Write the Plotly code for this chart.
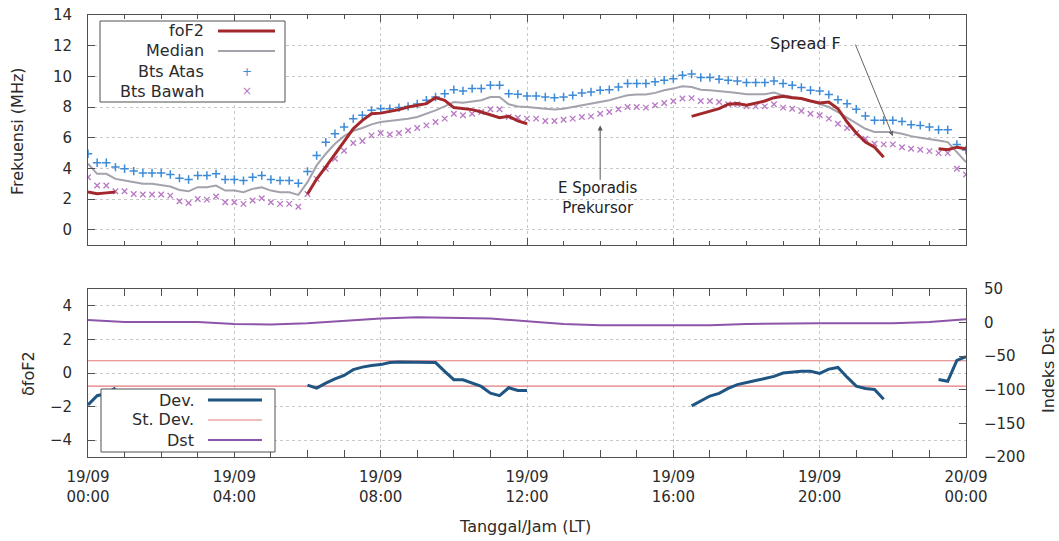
import plotly.graph_objects as go

# ---------------- data ----------------
time_h = [i / 4 for i in range(97)]          # 15-minute steps, 19/09 00:00 .. 20/09 00:00
dst_time_h = list(range(25))                 # hourly Dst

fof2 = [
    2.45, 2.35, 2.40, 2.45, None, None, None, None,
    None, None, None, None, None, None, None, None,
    None, None, None, None, None, None, None, None,
    2.33, 3.30, 4.10, 4.90, 5.71, 6.58, 7.13, 7.56,
    7.60, 7.72, 7.83, 8.00, 8.11, 8.22, 8.61, 8.44,
    7.96, 7.89, 7.83, 7.67, 7.46, 7.30, 7.39, 7.09,
    6.91, None, None, None, None, None, None, None,
    None, None, None, None, None, None, None, None,
    None, None, 7.39, 7.56, 7.74, 7.89, 8.18, 8.22,
    8.11, 8.26, 8.39, 8.61, 8.70, 8.61, 8.55, 8.39,
    8.26, 8.33, 7.89, 7.02, 6.30, 5.71, 5.38, 4.73,
    None, None, None, None, None, 5.28, 5.21, 5.38,
    5.28,
]

median = [
    4.30, 3.64, 3.64, 3.31, 3.20, 3.10, 2.99, 2.99,
    2.92, 2.81, 2.59, 2.50, 2.77, 2.77, 2.88, 2.55,
    2.55, 2.44, 2.66, 2.77, 2.55, 2.44, 2.44, 2.27,
    3.10, 4.19, 4.95, 5.60, 6.10, 6.45, 6.63, 6.87,
    7.02, 7.09, 7.13, 7.24, 7.35, 7.56, 7.78, 8.04,
    8.33, 8.28, 8.37, 8.44, 8.65, 8.65, 8.18, 8.04,
    8.00, 7.96, 7.89, 7.83, 7.89, 8.00, 8.11, 8.22,
    8.33, 8.44, 8.61, 8.76, 8.81, 8.81, 8.92, 9.09,
    9.20, 9.35, 9.30, 9.13, 9.09, 9.05, 8.98, 8.92,
    8.83, 8.83, 8.83, 8.94, 8.76, 8.65, 8.55, 8.39,
    8.22, 8.00, 7.67, 7.30, 6.91, 6.58, 6.37, 6.37,
    6.37, 6.26, 6.10, 6.00, 5.93, 5.82, 5.71, 5.06,
    4.40,
]

bts_atas = [
    4.95, 4.36, 4.36, 4.08, 3.97, 3.82, 3.70, 3.70,
    3.70, 3.60, 3.36, 3.27, 3.53, 3.53, 3.64, 3.27,
    3.27, 3.20, 3.42, 3.53, 3.27, 3.20, 3.20, 3.03,
    3.80, 4.84, 5.70, 6.26, 6.70, 7.24, 7.46, 7.78,
    7.89, 7.89, 7.96, 8.04, 8.20, 8.44, 8.65, 8.87,
    9.13, 9.05, 9.20, 9.20, 9.42, 9.42, 8.87, 8.83,
    8.72, 8.72, 8.65, 8.61, 8.65, 8.76, 8.92, 8.98,
    9.09, 9.13, 9.30, 9.53, 9.53, 9.53, 9.64, 9.75,
    9.85, 10.07, 10.15, 9.92, 9.92, 9.81, 9.75, 9.70,
    9.59, 9.59, 9.59, 9.70, 9.53, 9.42, 9.27, 9.09,
    9.05, 8.81, 8.48, 8.22, 7.85, 7.41, 7.13, 7.13,
    7.13, 7.06, 6.85, 6.80, 6.69, 6.52, 6.52, 5.56,
    5.20,
]

bts_bawah = [
    3.42, 2.88, 2.88, 2.50, 2.50, 2.33, 2.29, 2.29,
    2.29, 2.22, 1.85, 1.74, 2.00, 1.96, 2.16, 1.79,
    1.79, 1.68, 1.90, 2.05, 1.79, 1.68, 1.68, 1.50,
    2.33, 3.31, 3.97, 4.62, 5.15, 5.65, 5.78, 6.15,
    6.30, 6.21, 6.30, 6.47, 6.63, 6.80, 7.02, 7.24,
    7.56, 7.46, 7.56, 7.67, 7.85, 7.85, 7.35, 7.30,
    7.24, 7.24, 7.09, 7.09, 7.17, 7.24, 7.35, 7.39,
    7.56, 7.67, 7.85, 8.00, 8.00, 7.96, 8.11, 8.26,
    8.37, 8.55, 8.58, 8.39, 8.39, 8.33, 8.18, 8.18,
    8.04, 8.04, 8.04, 8.18, 7.96, 7.89, 7.74, 7.56,
    7.46, 7.24, 6.91, 6.63, 6.30, 5.93, 5.60, 5.56,
    5.56, 5.38, 5.28, 5.21, 5.12, 4.99, 4.99, 3.97,
    3.60,
]

dev = [
    -1.90, -1.35, -1.22, -0.90, None, None, None, None,
    None, None, None, None, None, None, None, None,
    None, None, None, None, None, None, None, None,
    -0.72, -0.90, -0.60, -0.35, -0.15, 0.20, 0.35, 0.45,
    0.50, 0.62, 0.65, 0.65, 0.62, 0.65, 0.62, 0.10,
    -0.40, -0.40, -0.60, -0.80, -1.20, -1.35, -0.88, -1.04,
    -1.04, None, None, None, None, None, None, None,
    None, None, None, None, None, None, None, None,
    None, None, -1.96, -1.67, -1.37, -1.21, -0.92, -0.69,
    -0.59, -0.45, -0.33, -0.20, 0.00, 0.05, 0.10, 0.10,
    -0.02, 0.23, 0.33, -0.25, -0.78, -0.92, -0.98, -1.56,
    None, None, None, None, None, -0.39, -0.49, 0.75,
    0.98,
]

st_dev_upper = 0.73
st_dev_lower = -0.78

dst = [4, 1, 1, 1, -2, -3, -1, 3, 6, 8, 7, 6, 2,
       -2, -4, -4, -3, -4, -2, -1, -1, -1, -1, 1, 5]

x_tickvals = [0, 4, 8, 12, 16, 20, 24]
x_ticktext = ["19/09<br>00:00", "19/09<br>04:00", "19/09<br>08:00", "19/09<br>12:00",
              "19/09<br>16:00", "19/09<br>20:00", "20/09<br>00:00"]

# ---------------- styles ----------------
W, H = 1059, 541
FONT = "DejaVu Sans"
TXT = "#2b2b2b"
FRAME = "#505050"
GRID = "#c8c8c8"
C_FOF2 = "#a3282c"
C_MED = "#a4a2ac"
C_ATAS = "#3d8ad6"
C_BAWAH = "#b877c4"
C_DEV = "#1f5583"
C_STD = "#e27a7a"
C_DST = "#8c55aa"
TICK_SIZE = 15
LABEL_SIZE = 16


def px(x):
    return x / W


def py(y):
    return 1 - y / H


fig = go.Figure()

# top panel
fig.add_trace(go.Scatter(x=time_h, y=median, mode="lines", line=dict(color=C_MED, width=2),
                         xaxis="x", yaxis="y", name="Median"))
fig.add_trace(go.Scatter(x=time_h, y=bts_atas, mode="markers",
                         marker=dict(symbol="cross-thin", size=6, line=dict(color=C_ATAS, width=1.5)),
                         xaxis="x", yaxis="y", name="Bts Atas"))
fig.add_trace(go.Scatter(x=time_h, y=bts_bawah, mode="markers",
                         marker=dict(symbol="x-thin", size=5.5, line=dict(color=C_BAWAH, width=1.3)),
                         xaxis="x", yaxis="y", name="Bts Bawah"))
fig.add_trace(go.Scatter(x=time_h, y=fof2, mode="lines", line=dict(color=C_FOF2, width=3),
                         connectgaps=False, xaxis="x", yaxis="y", name="foF2"))

# bottom panel
fig.add_trace(go.Scatter(x=dst_time_h, y=dst, mode="lines", line=dict(color=C_DST, width=2),
                         xaxis="x2", yaxis="y3", name="Dst"))
fig.add_trace(go.Scatter(x=time_h, y=[st_dev_upper] * len(time_h), mode="lines",
                         line=dict(color=C_STD, width=1.2), xaxis="x2", yaxis="y2", name="St. Dev."))
fig.add_trace(go.Scatter(x=time_h, y=[st_dev_lower] * len(time_h), mode="lines",
                         line=dict(color=C_STD, width=1.2), xaxis="x2", yaxis="y2", showlegend=False))
fig.add_trace(go.Scatter(x=time_h, y=dev, mode="lines", line=dict(color=C_DEV, width=3),
                         connectgaps=False, xaxis="x2", yaxis="y2", name="Dev."))

tickfont = dict(size=TICK_SIZE, family=FONT, color=TXT)
xdom = [px(88), px(966)]
common_x = dict(range=[0, 24], tickvals=x_tickvals, ticks="inside", ticklen=7, tickcolor=FRAME,
                showline=True, linecolor=FRAME, linewidth=1, mirror="allticks",
                showgrid=True, gridcolor=GRID, griddash="dot", gridwidth=1, zeroline=False,
                minor=dict(ticks="inside", dtick=1, ticklen=4, tickcolor=FRAME, showgrid=False),
                domain=xdom, fixedrange=True, automargin=False)

fig.update_layout(
    template="none",
    width=W, height=H, margin=dict(l=0, r=0, t=0, b=0, autoexpand=False),
    paper_bgcolor="white", plot_bgcolor="white", showlegend=False,
    font=dict(family=FONT, color=TXT, size=LABEL_SIZE),
    xaxis=dict(common_x, anchor="y", showticklabels=False),
    yaxis=dict(range=[-1, 14], tickvals=[0, 2, 4, 6, 8, 10, 12, 14], ticks="inside", ticklen=7,
               tickcolor=FRAME, showline=True, linecolor=FRAME, mirror="allticks",
               showgrid=True, gridcolor=GRID, griddash="dot", zeroline=False,
               domain=[py(245), py(15)], anchor="x", ticklabelstandoff=12, automargin=False,
               tickfont=tickfont),
    xaxis2=dict(common_x, anchor="y2", ticktext=x_ticktext, ticklabelstandoff=6,
                tickfont=tickfont),
    yaxis2=dict(range=[-5, 5], tickvals=[-4, -2, 0, 2, 4], ticks="inside", ticklen=7,
                tickcolor=FRAME, showline=True, linecolor=FRAME, mirror=False,
                showgrid=True, gridcolor=GRID, griddash="dot", zeroline=False,
                domain=[py(457), py(289)], anchor="x2", ticklabelstandoff=12, automargin=False,
                tickfont=tickfont),
    yaxis3=dict(range=[-200, 50], tickvals=[-200, -150, -100, -50, 0, 50], ticks="inside",
                ticklen=7, tickcolor=FRAME, showline=True, linecolor=FRAME,
                overlaying="y2", side="right", anchor="x2", showgrid=False, zeroline=False,
                ticklabelstandoff=14, automargin=False, tickfont=tickfont),
)

ann = []


def centered(**kw):
    kw.setdefault("xanchor", "center")
    kw.setdefault("yanchor", "middle")
    kw.setdefault("showarrow", False)
    return kw


# axis titles
ann.append(centered(text="Frekuensi (MHz)", x=px(18), y=py(131), xref="paper", yref="paper",
                    textangle=-90))
ann.append(centered(text="δfoF2", x=px(28), y=py(374), xref="paper", yref="paper",
                    textangle=-90))
ann.append(centered(text="Indeks Dst", x=px(1048), y=py(371), xref="paper", yref="paper",
                    textangle=-90))
ann.append(centered(text="Tanggal/Jam (LT)", x=px(525), y=py(526), xref="paper", yref="paper"))

# text annotations on the chart
ann.append(centered(text="Spread F", x=19.62, y=12.17, xref="x", yref="y",
                    font=dict(size=LABEL_SIZE, color="#222222")))
ann.append(dict(text="", x=22.0, y=6.1, ax=20.96, ay=12.17, xref="x", yref="y",
                axref="x", ayref="y", showarrow=True, arrowhead=2, arrowsize=1,
                arrowwidth=1, arrowcolor="#666666"))
ann.append(centered(text="E Sporadis<br>Prekursor", x=px(598), y=py(198), xref="paper",
                    yref="paper", font=dict(size=15, color="#222222")))
ann.append(dict(text="", x=14.0, y=6.8, ax=14.0, ay=3.15, xref="x", yref="y",
                axref="x", ayref="y", showarrow=True, arrowhead=2, arrowsize=1,
                arrowwidth=1, arrowcolor="#555555"))

shapes = []
# top legend box
shapes.append(dict(type="rect", xref="paper", yref="paper", x0=px(100), x1=px(285),
                   y0=py(102), y1=py(21), line=dict(color=FRAME, width=1), fillcolor="white",
                   layer="above"))
leg_top = [("foF2", 31, "line", C_FOF2, 3), ("Median", 51, "line", C_MED, 2),
           ("Bts Atas", 71.5, "+", C_ATAS, 0), ("Bts Bawah", 91, "×", C_BAWAH, 0)]
for label, yy, kind, col, w in leg_top:
    ann.append(centered(text=label, x=px(206), y=py(yy), xref="paper", yref="paper",
                        xanchor="right"))
    if kind == "line":
        shapes.append(dict(type="line", xref="paper", yref="paper", x0=px(218), x1=px(275),
                           y0=py(yy), y1=py(yy), line=dict(color=col, width=w), layer="above"))
    else:
        ann.append(centered(text=kind, x=px(247), y=py(yy), xref="paper", yref="paper",
                            font=dict(size=12, color=col)))

# bottom legend box
shapes.append(dict(type="rect", xref="paper", yref="paper", x0=px(101), x1=px(275),
                   y0=py(452), y1=py(389), line=dict(color=FRAME, width=1), fillcolor="white",
                   layer="above"))
leg_bot = [("Dev.", 400, C_DEV, 3), ("St. Dev.", 420, C_STD, 1.2), ("Dst", 440, C_DST, 2)]
for label, yy, col, w in leg_bot:
    ann.append(centered(text=label, x=px(196), y=py(yy), xref="paper", yref="paper",
                        xanchor="right"))
    shapes.append(dict(type="line", xref="paper", yref="paper", x0=px(208), x1=px(262),
                       y0=py(yy), y1=py(yy), line=dict(color=col, width=w), layer="above"))

fig.update_layout(annotations=ann, shapes=shapes)
fig.write_html("out.html")
